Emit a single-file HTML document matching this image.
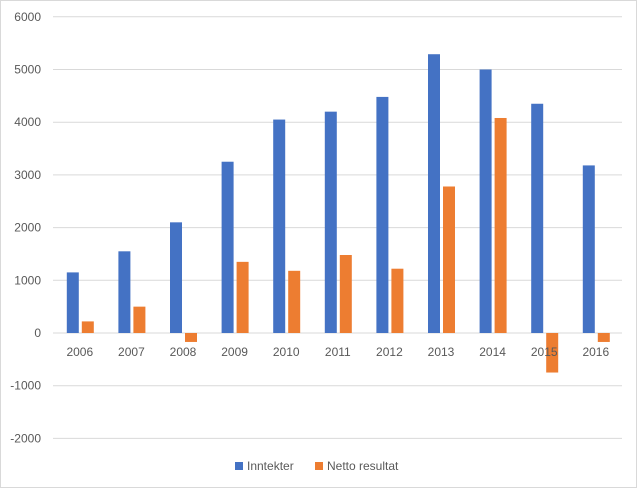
<!DOCTYPE html>
<html><head><meta charset="utf-8"><style>
body{margin:0;background:#fff;}
svg{display:block;font-family:"Liberation Sans",sans-serif;}
</style></head><body>
<svg width="637" height="488">
<rect x="0.5" y="0.5" width="636" height="487" fill="#fff" stroke="#d9d9d9"/>
<g id="grid"></g><g id="bars"></g><g id="labels"></g>
<g>
<rect x="235" y="462" width="8" height="8" fill="#4472c4"/>
<text x="247" y="470" font-size="12" fill="#595959">Inntekter</text>
<rect x="315" y="462" width="8" height="8" fill="#ed7d31"/>
<text x="327" y="470" font-size="12" fill="#595959">Netto resultat</text>
</g>
</svg>
<script>
const categories=["2006","2007","2008","2009","2010","2011","2012","2013","2014","2015","2016"];
const inntekter=[1150,1550,2100,3250,4050,4200,4480,5290,5000,4350,3180];
const netto=[220,500,-170,1350,1180,1480,1220,2780,4080,-750,-170];
const yTicks=[6000,5000,4000,3000,2000,1000,0,-1000,-2000];
const NS="http://www.w3.org/2000/svg";
const y0=333,k=52.7/1000,x0=54,step=51.6;
const y=v=>y0-v*k;
const xc=i=>x0+step*(i+0.5);
function mk(t,a,p){const e=document.createElementNS(NS,t);for(const n in a)e.setAttribute(n,a[n]);p.appendChild(e);return e;}
const g=document.getElementById('grid'),b=document.getElementById('bars'),l=document.getElementById('labels');
yTicks.forEach(v=>{
 const ln=mk('line',{x1:53,x2:622,y1:y(v),y2:y(v),stroke:'#d9d9d9'},g);
 
 
 const t=mk('text',{x:41,y:y(v)+4,'text-anchor':'end','font-size':12,fill:'#595959'},l);
 t.textContent=v;
 
 
});
categories.forEach((c,i)=>{
 const cx=xc(i);
 const v1=inntekter[i],v2=netto[i];
 const r1=mk('rect',{x:cx-13,y:Math.min(y(v1),y0),width:12,height:Math.abs(y(v1)-y0),fill:'#4472c4'},b);
 
 
 const r2=mk('rect',{x:cx+2,y:Math.min(y(v2),y0),width:12,height:Math.abs(y(v2)-y0),fill:'#ed7d31'},b);
 
 
 const t=mk('text',{x:cx,y:y0+23,'text-anchor':'middle','font-size':12,fill:'#595959'},l);
 t.textContent=c;
 
 
});
</script>
</body></html>
